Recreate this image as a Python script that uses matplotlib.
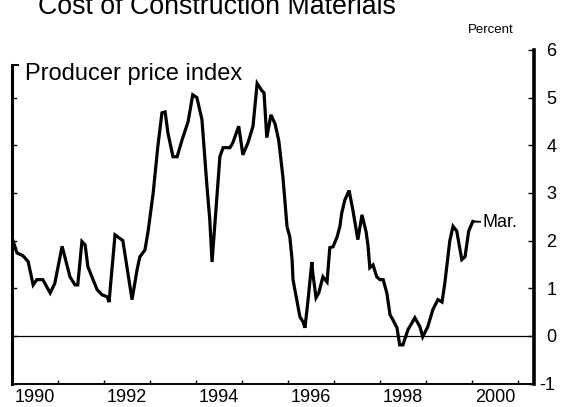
import matplotlib
matplotlib.use("Agg")
import matplotlib.pyplot as plt
from matplotlib.transforms import ScaledTranslation

plt.rcParams["font.family"] = ["Liberation Sans", "DejaVu Sans"]

# Producer price index for construction materials, percent change
dates = [
    1990.02, 1990.11, 1990.24, 1990.35, 1990.46, 1990.54, 1990.67, 1990.83, 1990.93,
    1991.09, 1991.26, 1991.37, 1991.43, 1991.52, 1991.59, 1991.65, 1991.85, 1991.96,
    1992.07, 1992.11, 1992.24, 1992.41, 1992.61, 1992.72, 1992.78, 1992.89, 1992.96,
    1993.07, 1993.17, 1993.26, 1993.33, 1993.39, 1993.50, 1993.59, 1993.70, 1993.83,
    1993.93, 1994.02, 1994.13, 1994.24, 1994.30, 1994.35, 1994.52, 1994.59, 1994.74,
    1994.80, 1994.93, 1995.02, 1995.13, 1995.24, 1995.33, 1995.43, 1995.48, 1995.54,
    1995.63, 1995.72, 1995.80, 1995.89, 1995.98, 1996.04, 1996.09, 1996.11, 1996.15,
    1996.22, 1996.26, 1996.33, 1996.37, 1996.43, 1996.52, 1996.54, 1996.61, 1996.67,
    1996.76, 1996.85, 1996.91, 1996.98, 1997.07, 1997.13, 1997.17, 1997.24, 1997.33,
    1997.41, 1997.52, 1997.61, 1997.70, 1997.74, 1997.78, 1997.85, 1997.93, 1998.00,
    1998.07, 1998.15, 1998.22, 1998.28, 1998.37, 1998.43, 1998.50, 1998.61, 1998.76,
    1998.87, 1998.93, 1999.04, 1999.15, 1999.26, 1999.35, 1999.41, 1999.52, 1999.59,
    1999.67, 1999.78, 1999.85, 1999.93, 2000.02,
]
ppi = [
    2.00, 1.74, 1.68, 1.56, 1.07, 1.18, 1.18, 0.90, 1.10,
    1.88, 1.24, 1.07, 1.07, 1.98, 1.91, 1.45, 0.97, 0.86,
    0.82, 0.71, 2.12, 2.00, 0.76, 1.39, 1.66, 1.80, 2.20,
    3.00, 3.97, 4.68, 4.70, 4.26, 3.76, 3.76, 4.12, 4.50,
    5.06, 5.00, 4.54, 3.13, 2.44, 1.55, 3.76, 3.95, 3.95,
    4.05, 4.40, 3.80, 4.05, 4.40, 5.30, 5.15, 5.10, 4.16,
    4.64, 4.45, 4.10, 3.34, 2.29, 2.08, 1.60, 1.18, 0.97,
    0.61, 0.40, 0.29, 0.17, 0.69, 1.55, 1.32, 0.80, 0.90,
    1.24, 1.13, 1.85, 1.87, 2.08, 2.30, 2.58, 2.86, 3.05,
    2.65, 2.02, 2.54, 2.18, 1.90, 1.43, 1.49, 1.24, 1.18,
    1.18, 0.90, 0.44, 0.34, 0.17, -0.19, -0.19, 0.13, 0.38,
    0.19, -0.02, 0.19, 0.55, 0.76, 0.71, 1.10, 2.00, 2.30,
    2.20, 1.60, 1.66, 2.20, 2.40,
]

year_labels = [1990, 1992, 1994, 1996, 1998, 2000]
year_ticks = list(range(1991, 2002))
y_ticks = [-1, 0, 1, 2, 3, 4, 5, 6]

fig = plt.figure(figsize=(5.61, 4.07), dpi=100)
ax = fig.add_axes([12 / 561, 23.5 / 407, 522 / 561, 333.5 / 407])

ax.plot(dates, ppi, color="black", lw=2.3, solid_joinstyle="miter")
ax.axhline(0, color="black", lw=0.9)

ax.set_xlim(1990, 2001.35)
ax.set_ylim(-1, 6)

# spines
ax.spines["top"].set_visible(False)
ax.spines["left"].set_linewidth(2.2)
ax.spines["right"].set_linewidth(2.6)
ax.spines["bottom"].set_linewidth(1.4)
ax.spines["left"].set_bounds(-1, 5.69)
ax.plot([1990, 1990.12], [5.69, 5.69], color="black", lw=1.4, clip_on=False)

# x axis: yearly ticks, labels centred in the year
ax.set_xticks(year_ticks)
ax.set_xticklabels([])
ax.set_xticks([y + 0.5 for y in year_labels], minor=True)
ax.set_xticklabels([str(y) for y in year_labels], minor=True, fontsize=13)
ax.tick_params(axis="x", which="major", direction="in", length=3, width=1)
ax.tick_params(axis="x", which="minor", length=0, pad=4)

# y axis: ticks and labels on the right
ax.set_yticks(y_ticks)
ax.set_yticklabels([str(v) for v in y_ticks], fontsize=13)
ax.tick_params(axis="y", direction="in", length=4, width=1,
               left=False, right=True, labelleft=False, labelright=True, pad=9)

# let the minus sign of "-1" hang left of the digit column
neg_label = ax.yaxis.get_major_ticks()[0].label2
neg_label.set_transform(neg_label.get_transform()
                        + ScaledTranslation(-0.07, 0, fig.dpi_scale_trans))

# short inward ticks on the left spine (below its bracket)
ytrans = ax.get_yaxis_transform()
for v in y_ticks[:-1]:
    ax.plot([0, 0.008], [v, v], color="black", lw=1, transform=ytrans, clip_on=False)

ax.text(0.025, 0.91, "Producer price index", transform=ax.transAxes,
        fontsize=17, va="baseline", ha="left")
ax.annotate("Mar.", xy=(dates[-1], ppi[-1]), xytext=(483 / 561, 1 - 227 / 407),
            textcoords="figure fraction", fontsize=13, va="baseline", ha="left",
            arrowprops=dict(arrowstyle="-", lw=1.4, color="black",
                            shrinkA=0, shrinkB=0))

fig.text(217 / 561, 1 - 14 / 407, "Cost of Construction Materials",
         fontsize=19.3, ha="center", va="baseline")
fig.text(491 / 561, 1 - 33 / 407, "Percent", fontsize=9.5,
         ha="center", va="baseline")

fig.savefig("out.png", dpi=100)
